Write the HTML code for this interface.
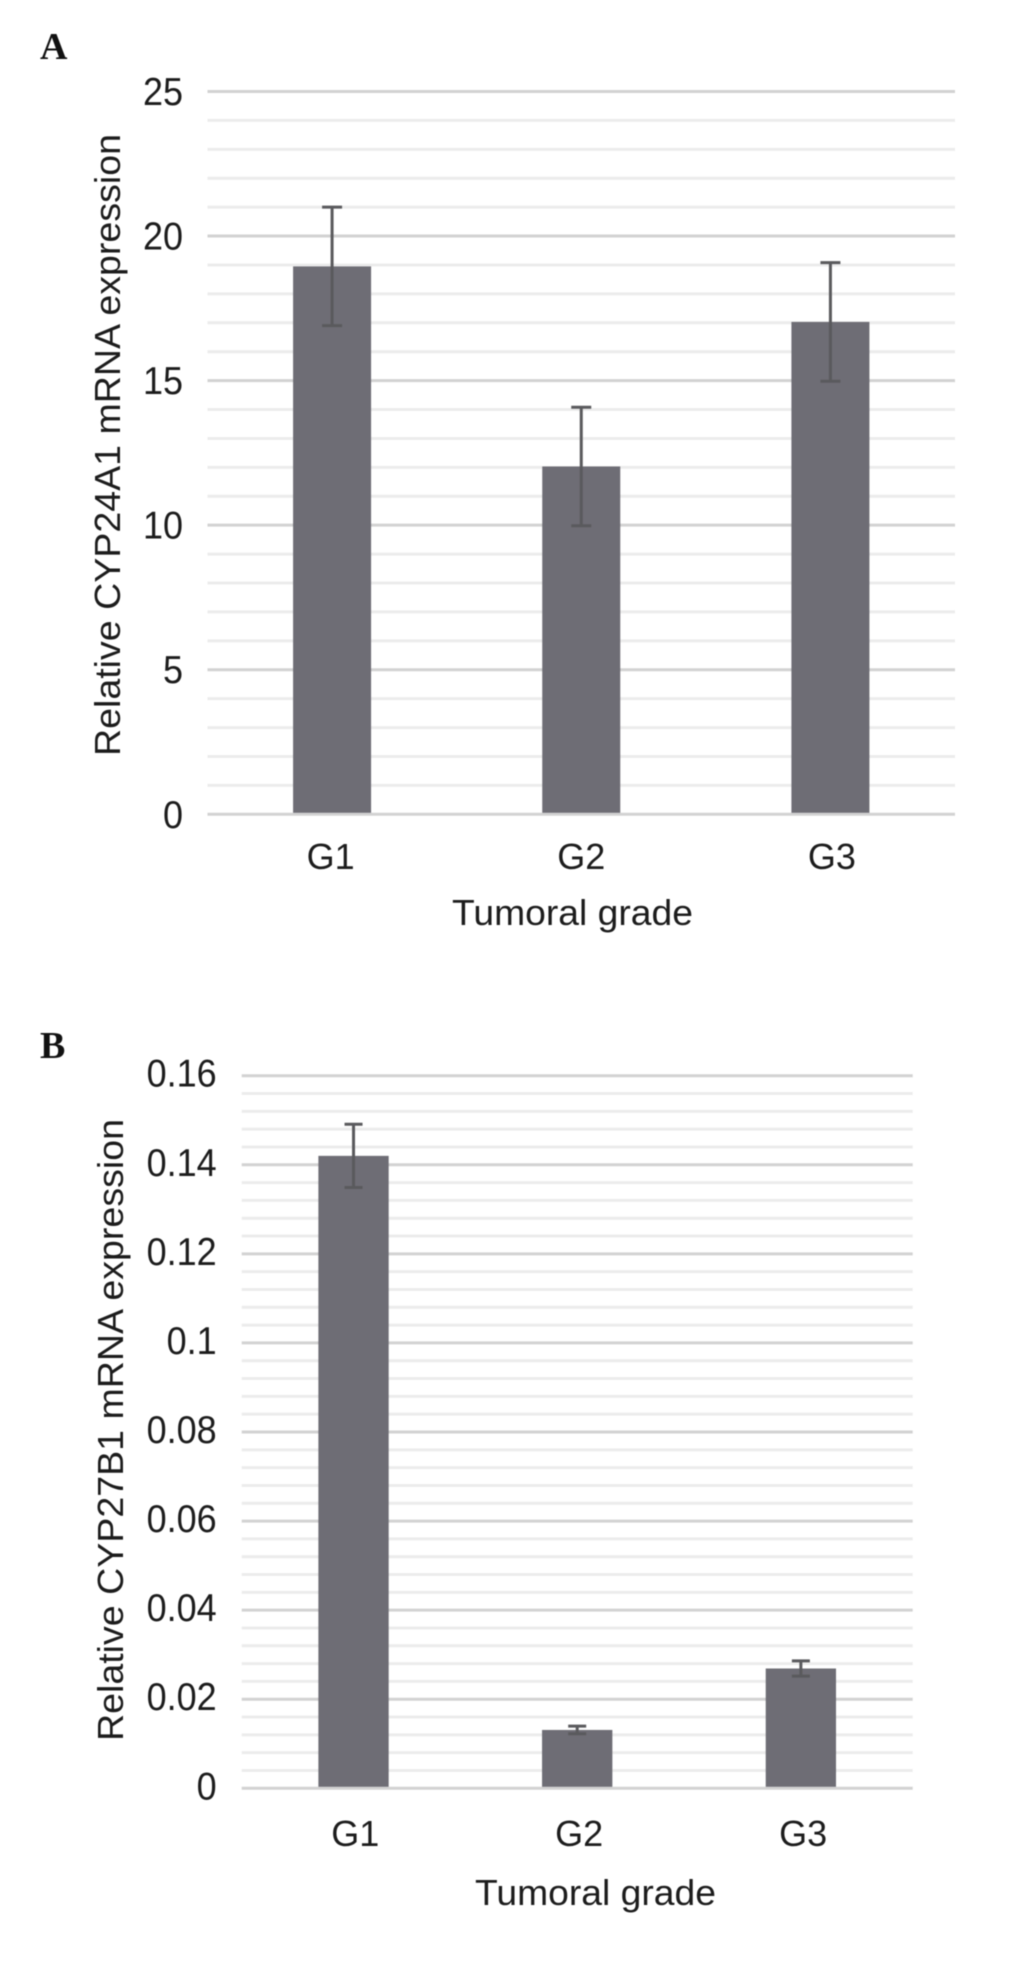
<!DOCTYPE html>
<html lang="en">
<head>
<meta charset="utf-8">
<title>CYP24A1 and CYP27B1 mRNA expression by tumoral grade</title>
<style>
html,body{margin:0;padding:0;background:#fff;width:1033px;height:1972px;overflow:hidden}
#figure{display:block;filter:blur(0.6px)}
text{font-family:"Liberation Sans",sans-serif;fill:#1c1c1c}
.panel-letter{font-family:"Liberation Serif",serif;font-weight:bold;font-size:38px;fill:#111}
</style>
</head>
<body>
<svg id="figure" xmlns="http://www.w3.org/2000/svg" width="1033" height="1972" viewBox="0 0 1033 1972">
  <text class="panel-letter" x="40" y="59">A</text>
  <text class="panel-letter" x="40" y="1058">B</text>
  <g id="chart-a"></g>
  <g id="chart-b"></g>
</svg>
<script>
const categories = ["G1", "G2", "G3"];

const valuesA = [18.95, 12.03, 17.03];
const errorsA = [2.05, 2.05, 2.05];
const ticksA = [0, 5, 10, 15, 20, 25];
const tickLabelsA = ["0", "5", "10", "15", "20", "25"];

const valuesB = [0.142, 0.0131, 0.0269];
const errorsB = [0.0071, 0.00085, 0.0017];
const ticksB = [0, 0.02, 0.04, 0.06, 0.08, 0.1, 0.12, 0.14, 0.16];
const tickLabelsB = ["0", "0.02", "0.04", "0.06", "0.08", "0.1", "0.12", "0.14", "0.16"];

const SVG_NS = "http://www.w3.org/2000/svg";

function make(parent, tag, attrs, content) {
  const el = document.createElementNS(SVG_NS, tag);
  Object.keys(attrs).forEach(function (k) { el.setAttribute(k, attrs[k]); });
  if (content !== undefined) el.textContent = content;
  parent.appendChild(el);
  return el;
}

function drawChart(root, cfg, values, errors, ticks, tickLabels) {
  const yScale = function (v) {
    return cfg.bottom - (v / cfg.max) * (cfg.bottom - cfg.top);
  };
  const band = (cfg.right - cfg.left) / categories.length;
  const xScale = function (i) {
    return cfg.left + band * (i + 0.5);
  };

  // minor gridlines
  const minorStep = (ticks[1] - ticks[0]) / cfg.minorDiv;
  const minorCount = Math.round(cfg.max / minorStep);
  for (let m = 0; m <= minorCount; m++) {
    if (m % cfg.minorDiv === 0) continue;
    const y = yScale(m * minorStep);
    const minor = make(root, "line", { x1: cfg.left, x2: cfg.right, y1: y, y2: y, stroke: "#ececec", "stroke-width": 3 });
    
    
  }

  // major gridlines and tick labels
  ticks.forEach(function (t, i) {
    const y = yScale(t);
    const major = make(root, "line", { x1: cfg.left, x2: cfg.right, y1: y, y2: y, stroke: "#d2d2d2", "stroke-width": 3 });
    
    
    const label = make(root, "text", {
      x: 0, y: 0, "text-anchor": "end", "font-size": 36,
      transform: "translate(" + cfg.tickRight + "," + (y + cfg.tickDy) + ") scale(1,1.08)"
    }, tickLabels[i]);
    
    
  });

  // bars, error bars, category labels
  categories.forEach(function (c, i) {
    const cx = xScale(i);
    const top = yScale(values[i]);
    const bar = make(root, "rect", { x: cx - cfg.barWidth / 2, y: top, width: cfg.barWidth, height: yScale(0) - top - 1.5, fill: "#6e6d75" });
    
    

    const hi = yScale(values[i] + errors[i]);
    const lo = yScale(values[i] - errors[i]);
    const g = make(root, "g", { stroke: "#5a5a5d", fill: "none" });
    
    
    make(g, "line", { x1: cx, x2: cx, y1: hi, y2: lo, "stroke-width": 3 });
    make(g, "line", { x1: cx - cfg.capWidth / 2, x2: cx + cfg.capWidth / 2, y1: hi, y2: hi, "stroke-width": 3 });
    make(g, "line", { x1: cx - cfg.capWidth / 2, x2: cx + cfg.capWidth / 2, y1: lo, y2: lo, "stroke-width": 3 });

    const catLabel = make(root, "text", { x: cx + cfg.catDx * (i - 1) + cfg.catShift, y: cfg.catY, "text-anchor": "middle", "font-size": 36 }, c);
    
    
  });

  // axis titles
  const xTitle = make(root, "text", { x: cfg.xTitleX, y: cfg.xTitleY, "text-anchor": "middle", "font-size": 36, textLength: 241, lengthAdjust: "spacingAndGlyphs" }, "Tumoral grade");
  
  

  const yTitle = make(root, "text", {
    x: 0, y: 0, "text-anchor": "middle", "font-size": 36, textLength: 622, lengthAdjust: "spacingAndGlyphs",
    transform: "translate(" + cfg.yTitleX + "," + cfg.yTitleY + ") rotate(-90)"
  }, cfg.yTitle);
  
  
}

drawChart(document.getElementById("chart-a"), {
  left: 207.5, right: 955, top: 91.5, bottom: 814.3, max: 25, minorDiv: 5,
  barWidth: 78, capWidth: 20, tickRight: 183, tickDy: 13.5,
  catY: 869, catDx: 1.5, catShift: 0,
  xTitleX: 572.5, xTitleY: 925,
  yTitleX: 120, yTitleY: 445, yTitle: "Relative CYP24A1 mRNA expression"
}, valuesA, errorsA, ticksA, tickLabelsA);

drawChart(document.getElementById("chart-b"), {
  left: 241.7, right: 912.7, top: 1075.7, bottom: 1788.3, max: 0.16, minorDiv: 5,
  barWidth: 70.3, capWidth: 18, tickRight: 216.7, tickDy: 11,
  catY: 1846, catDx: 0.33, catShift: 2,
  xTitleX: 595.5, xTitleY: 1905,
  yTitleX: 123, yTitleY: 1430, yTitle: "Relative CYP27B1 mRNA expression"
}, valuesB, errorsB, ticksB, tickLabelsB);
</script>
</body>
</html>
